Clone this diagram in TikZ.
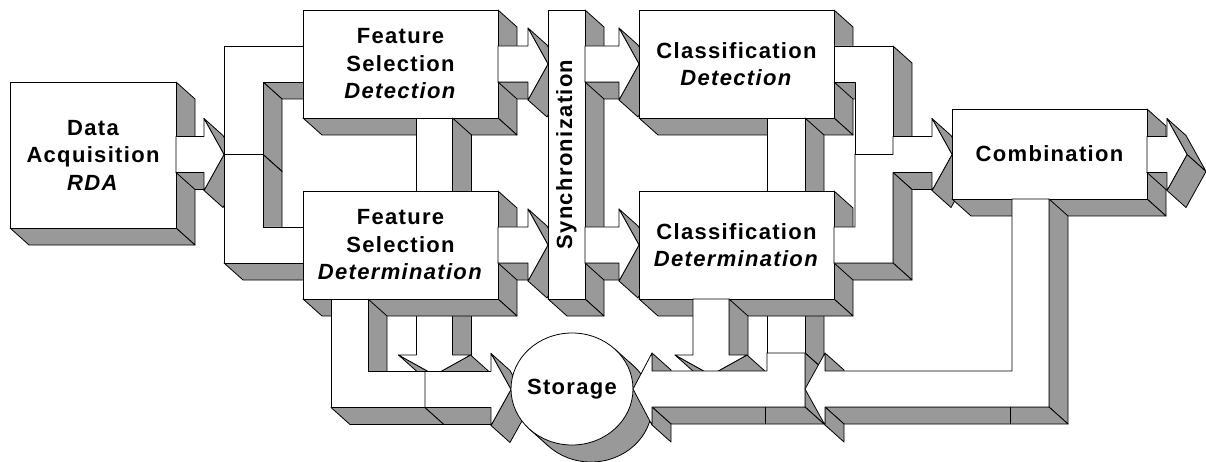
\documentclass[tikz,border=0pt]{standalone}
\usepackage{fontspec}
\usepackage{tikz}
\usetikzlibrary{calc}
\usepackage{color}
\definecolor{ashgray}{RGB}{153,153,153}
\newfontfamily\blockfont[LetterSpace=6]{Liberation Sans}

\newcommand{\depthx}{19}
\newcommand{\depthy}{17}

\tikzset{
    sideface/.style  = {fill=ashgray, draw=black, line width=0.8pt, line join=round},
    frontface/.style = {fill=white,   draw=black, line width=0.8pt, line join=round},
    blocktext/.style = {font=\blockfont\bfseries\fontsize{22}{27.5}\selectfont, align=center, inner sep=0pt}
}

% extruded polygon: first point, then the others clockwise
\newcommand{\blockshape}[3]{%
    \foreach \x/\y [remember=\x as \px (initially #1), remember=\y as \py (initially #2)] in {#3,#1/#2}{%
        \pgfmathtruncatemacro{\vis}{((\y)-(\py))*\depthx-((\x)-(\px))*\depthy>0}%
        \ifnum\vis=1
            \filldraw[sideface] (\px,\py) -- (\x,\y) -- ++(\depthx,\depthy) -- ({\px+\depthx},{\py+\depthy}) -- cycle;
        \fi
    }%
    \filldraw[frontface] (#1,#2) \foreach \x/\y in {#3}{ -- (\x,\y)} -- cycle;
}
% tail x, tip x, centre y
\newcommand{\rightblockarrow}[3]{%
    \pgfmathsetmacro{\ahb}{#2-20}%
    \pgfmathsetmacro{\abt}{#3-18}\pgfmathsetmacro{\abb}{#3+18}%
    \pgfmathsetmacro{\aht}{#3-36}\pgfmathsetmacro{\ahl}{#3+36}%
    \blockshape{\ahb}{\abb}{#1/\abb,#1/\abt,\ahb/\abt,\ahb/\aht,#2/#3,\ahb/\ahl}%
}
% centre x, top y, tip y
\newcommand{\downblockarrow}[3]{%
    \pgfmathsetmacro{\ahb}{#3-20}%
    \pgfmathsetmacro{\abl}{#1-18}\pgfmathsetmacro{\abr}{#1+18}%
    \pgfmathsetmacro{\ahw}{#1-36}\pgfmathsetmacro{\ahe}{#1+36}%
    \blockshape{\abl}{#2}{\abr/#2,\abr/\ahb,\ahe/\ahb,#1/#3,\ahw/\ahb,\abl/\ahb}%
}

\begin{document}
\begin{tikzpicture}[x=1pt, y=-1pt]
    \useasboundingbox (0,0) rectangle (1206,462);

    \blockshape{10}{82}{176/82,176/228,10/228}
    \node[blocktext] (acq) at (93,155) {Data\\Acquisition\\\textit{RDA}};
    \rightblockarrow{176}{224}{154.5}

    \blockshape{224}{46}{303/46,303/82,263/82,263/154.5,224/154.5}
    \blockshape{224}{154.5}{263/154.5,263/227,303/227,303/263,224/263}

    \downblockarrow{434.5}{290}{375}

    \blockshape{303}{10}{498/10,498/118,303/118}
    \node[blocktext] (fsdet) at (400.5,64) {Feature\\Selection\\\textit{Detection}};
    \blockshape{416.5}{118}{452.5/118,452.5/191,416.5/191}
    \blockshape{303}{191}{498/191,498/299,303/299}
    \node[blocktext] (fsdtm) at (400.5,245) {Feature\\Selection\\\textit{Determination}};

    \rightblockarrow{498}{548}{64}
    \rightblockarrow{498}{548}{245}

    \blockshape{331}{299}{368/299,368/371.5,425/371.5,425/407.5,331/407.5}
    \rightblockarrow{425}{511}{389.5}

    \filldraw[sideface] (591,406) ellipse (61 and 56);
    \fill[ashgray] (614.6,348.9) -- (633.6,365.9) -- (548.4,446.1) -- (529.4,429.1) -- cycle;
    \draw[line width=0.8pt] (614.6,348.9) -- (633.6,365.9) (529.4,429.1) -- (548.4,446.1);
    \filldraw[frontface] (572,389) ellipse (61 and 56);
    \node[blocktext] (store) at (572,389) {Storage};

    \blockshape{548}{10}{585/10,585/299,548/299}
    \node[blocktext, rotate=90] (sync) at (566.5,154.5) {Synchronization};

    \rightblockarrow{585}{639}{64}
    \rightblockarrow{585}{639}{245}

    \blockshape{767}{290}{805/290,805/353,767/353}

    \blockshape{639}{10}{834/10,834/118,639/118}
    \node[blocktext] (cldet) at (736.5,64) {Classification\\\textit{Detection}};
    \blockshape{767}{118}{805/118,805/191,767/191}
    \blockshape{639}{191}{834/191,834/299,639/299}
    \node[blocktext] (cldtm) at (736.5,245) {Classification\\\textit{Determination}};

    \downblockarrow{711}{299}{375}
    \blockshape{767}{353}{805/353,805/407,652/407,652/425,633/389,652/353,652/371,767/371}
    \draw[line width=0.8pt] (765,407) -- (765,424);

    \blockshape{834}{46}{893/46,893/154.5,855/154.5,855/82,834/82}
    \blockshape{932}{172.5}{893/172.5,893/263,834/263,834/227,855/227,855/154.5,893/154.5,893/136.5,932/136.5,932/118.5,952/154.5,932/190.5}

    \blockshape{952}{109}{1147/109,1147/199,952/199}
    \node[blocktext] (comb) at (1049.5,154) {Combination};
    \rightblockarrow{1147}{1187}{154.5}

    \blockshape{1012}{199}{1049/199,1049/407,825/407,825/425,805/389,825/353,825/371,1012/371}
    \draw[line width=0.8pt] (1010,407) -- (1010,424);
\end{tikzpicture}
\end{document}
